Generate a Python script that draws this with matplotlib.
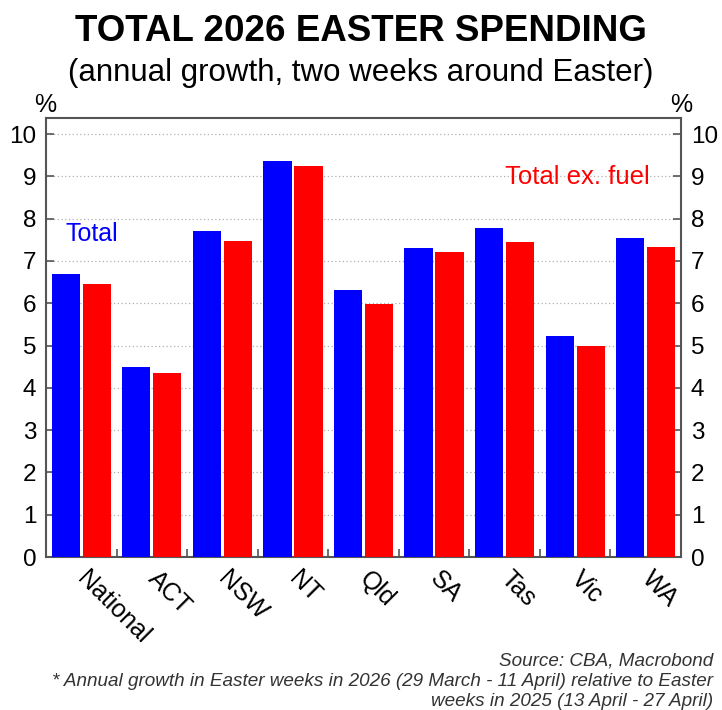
import numpy as np
import matplotlib
matplotlib.use('Agg')
import matplotlib.pyplot as plt

plt.rcParams['font.family'] = ['Liberation Sans', 'DejaVu Sans']

regions = ['National', 'ACT', 'NSW', 'NT', 'Qld', 'SA', 'Tas', 'Vic', 'WA']
total = [6.70, 4.50, 7.70, 9.36, 6.31, 7.30, 7.78, 5.23, 7.55]
total_ex_fuel = [6.45, 4.34, 7.47, 9.24, 5.98, 7.22, 7.44, 4.98, 7.34]

BLUE = '#0000ff'
RED = '#ff0000'
W, H = 722, 710


def fy(py):
    # pixel row (from top) -> figure fraction
    return 1 - py / H


fig = plt.figure(figsize=(W / 100, H / 100), dpi=100)
ax = fig.add_axes([46 / W, fy(557), (681 - 46) / W, (557 - 118) / H])

x = np.arange(len(regions))
ax.bar(x - 0.22, total, width=0.40, color=BLUE, zorder=3)
ax.bar(x + 0.22, total_ex_fuel, width=0.40, color=RED, zorder=3)

ax.set_xlim(-0.5, len(regions) - 0.5)
ax.set_ylim(0, 10.38)
ax.set_yticks(range(0, 11))
ax.grid(True, axis='y', linestyle=(0, (1, 2)), color='#b0b0b0', linewidth=0.9, zorder=0)

# category labels centred on groups, tick marks between groups
ax.set_xticks(x)
ax.set_xticklabels(regions, rotation=-45, ha='left', va='center', rotation_mode='anchor', fontsize=18)
ax.tick_params(axis='x', length=0, pad=13)
ax.set_xticks(np.arange(0.5, len(regions) - 0.5, 1), minor=True)
ax.tick_params(axis='x', which='minor', direction='in', length=6, width=1.2, color='#555555')

ax.tick_params(axis='y', direction='in', length=6, width=1.2, color='#555555', labelsize=17.5,
               left=True, right=True, labelleft=True, labelright=True, pad=7)

for s in ax.spines.values():
    s.set_color('#555555')
    s.set_linewidth(1.5)

fig.text(45 / W, fy(112), '%', ha='center', va='baseline', fontsize=18)
fig.text(681 / W, fy(112), '%', ha='center', va='baseline', fontsize=18)

ax.text(0.03, 7.47, 'Total', transform=ax.get_yaxis_transform(), color=BLUE, fontsize=18,
        va='baseline')
ax.text(0.951, 8.82, 'Total ex. fuel', transform=ax.get_yaxis_transform(), color=RED,
        fontsize=18.5, va='baseline', ha='right')

fig.text(0.5, fy(41), 'TOTAL 2026 EASTER SPENDING', ha='center', va='baseline',
         fontsize=26.5, fontweight='bold')
fig.text(0.5, fy(81), '(annual growth, two weeks around Easter)', ha='center',
         va='baseline', fontsize=22.5)

foot = dict(ha='right', va='baseline', fontsize=13.6, style='italic', color='#333333')
fig.text(713 / W, fy(665), 'Source: CBA, Macrobond', **foot)
fig.text(713 / W, fy(686),
         '* Annual growth in Easter weeks in 2026 (29 March - 11 April) relative to Easter', **foot)
fig.text(713 / W, fy(706), 'weeks in 2025 (13 April - 27 April)', **foot)

fig.savefig('out.png', dpi=100)
